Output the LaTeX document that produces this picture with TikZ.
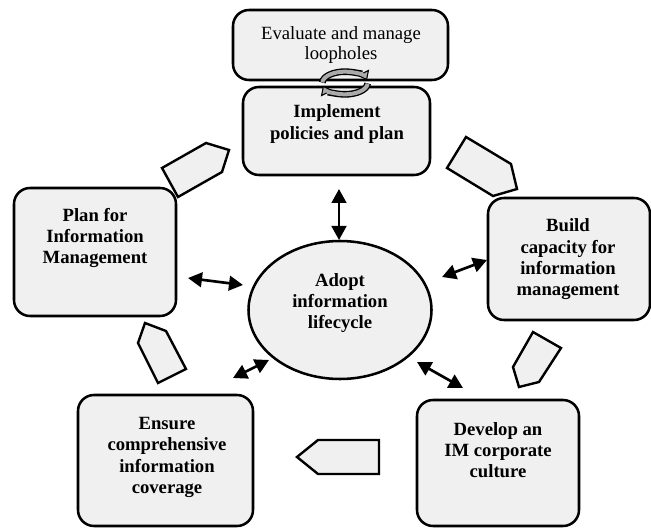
\documentclass[tikz,border=0pt]{standalone}
\usepackage{fontspec}
\setmainfont{Liberation Serif}
\usetikzlibrary{shapes.geometric,arrows.meta}
\definecolor{boxgray}{RGB}{240,240,240}
\definecolor{symgray}{RGB}{170,170,170}
\tikzset{
  box/.style={draw, line width=1.9pt, rounded corners=12pt, fill=boxgray, inner sep=0pt},
  lbl/.style={align=center, inner sep=0pt, font=\bfseries\fontsize{14pt}{16pt}\selectfont},
  lblr/.style={align=center, inner sep=0pt, font=\fontsize{14pt}{15pt}\selectfont},
  dbl/.style={{Triangle[length=10.5pt,width=11pt]}-{Triangle[length=10.5pt,width=11pt]}, line width=2pt},
  penta/.style={draw, fill=boxgray, line width=1.8pt, line join=miter},
}
\begin{document}
\begin{tikzpicture}[x=0.75pt, y=-0.75pt]
\useasboundingbox (0,0) rectangle (651,528);

% boxes
\node[box, minimum width=161.25pt, minimum height=52.5pt] (eval) at (340.5,45) {};
\node[lblr] (evalT) at (341,45) {Evaluate and manage\\loopholes};
\node[box, minimum width=140.25pt, minimum height=66pt] (impl) at (336.5,131) {};
\node[lbl] (implT) at (337,124) {Implement\\policies and plan};
\node[box, minimum width=121.5pt, minimum height=96pt] (plan) at (95,252) {};
\node[lbl] (planT) at (95,238) {Plan for\\Information\\Management};
\node[box, minimum width=121.5pt, minimum height=91.5pt] (build) at (569,259) {};
\node[lbl] (buildT) at (568,259.5) {Build\\capacity for\\information\\management};
\node[box, minimum width=121.5pt, minimum height=94.5pt] (dev) at (498,463) {};
\node[lbl] (devT) at (498,450) {Develop an\\IM corporate\\culture};
\node[box, minimum width=131.25pt, minimum height=98.25pt] (ens) at (165.5,460.5) {};
\node[lbl] (ensT) at (167,457.5) {Ensure\\comprehensive\\information\\coverage};
\node[draw, ellipse, fill=boxgray, line width=1.9pt, inner sep=0pt,
      minimum width=137.25pt, minimum height=103.5pt] (adopt) at (340,310) {};
\node[lbl] (adoptT) at (340,303) {Adopt\\information\\lifecycle};

% circular arrows symbol
\coordinate (ca) at (345,83);
\draw[line width=5pt, -{Triangle[length=6.5pt,width=10pt,fill=symgray,line width=0.8pt]}]
  (ca) ++(178:17pt and 8.5pt) arc[start angle=178, end angle=14, x radius=17pt, y radius=8.5pt];
\draw[line width=3pt, symgray, shorten >=5.5pt]
  (ca) ++(176:17pt and 8.5pt) arc[start angle=176, end angle=14, x radius=17pt, y radius=8.5pt];
\draw[line width=5pt, -{Triangle[length=6.5pt,width=10pt,fill=symgray,line width=0.8pt]}]
  (ca) ++(-2:17pt and 8.5pt) arc[start angle=-2, end angle=-166, x radius=17pt, y radius=8.5pt];
\draw[line width=3pt, symgray, shorten >=5.5pt]
  (ca) ++(-4:17pt and 8.5pt) arc[start angle=-4, end angle=-166, x radius=17pt, y radius=8.5pt];

% pentagon arrows
\draw[penta] (162,168) -- (206,143) -- (229,150) -- (222,172) -- (178,197) -- cycle;
\draw[penta] (466,137) -- (511,164) -- (517,189) -- (493,196) -- (447,168) -- cycle;
\draw[penta] (533,332) -- (561,348) -- (539,382) -- (519,387) -- (513,367) -- cycle;
\draw[penta] (379,440) -- (318,440) -- (297,457) -- (318,474) -- (379,474) -- cycle;
\draw[penta] (186,369) -- (166,331) -- (145,323) -- (138,343) -- (158,383) -- cycle;

% double arrows
\coordinate (t1) at (339,189); \coordinate (t2) at (339,240);
\coordinate (l1) at (188,278); \coordinate (l2) at (243,285);
\coordinate (r1) at (442,277); \coordinate (r2) at (487,260);
\coordinate (ll1) at (233,378); \coordinate (ll2) at (269,360);
\coordinate (lr1) at (417,362); \coordinate (lr2) at (463,388);
\draw[dbl] (t1) -- (t2);
\draw[dbl] (l1) -- (l2);
\draw[dbl] (r1) -- (r2);
\draw[dbl] (ll1) -- (ll2);
\draw[dbl] (lr1) -- (lr2);
\end{tikzpicture}
\end{document}
